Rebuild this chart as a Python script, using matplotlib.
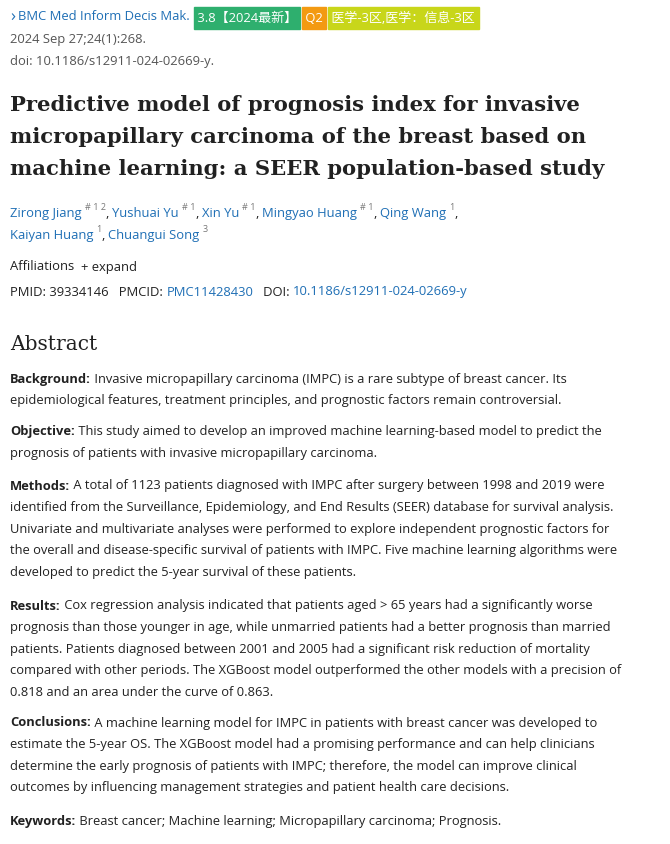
import matplotlib
matplotlib.use("Agg")
import matplotlib.pyplot as plt
from matplotlib.patches import Rectangle

W, H = 670, 844
fig = plt.figure(figsize=(6.7, 8.44), dpi=100)
fig.patch.set_facecolor("white")
r = fig.canvas.get_renderer()
BODY = ["Open Sans", "Noto Sans CJK SC", "DejaVu Sans"]
LINK = "#1f6fb5"
TXT = "#212121"
GRAY = "#555555"

def put(x, y, s, size=9.4, color=TXT, weight="normal", family=BODY):
    t = fig.text(x / W, 1 - y / H, s, fontsize=size, color=color, weight=weight,
                 family=family, va="center", ha="left")
    bb = t.get_window_extent(renderer=r)
    return x + bb.width

def runs(x, y, items, size=9.4):
    for it in items:
        s, kw = it if isinstance(it, tuple) else (it, {})
        x = put(x, y, s, size=size, **kw)
    return x

# header
x = put(10, 17, "›", size=12, color=LINK)
x = put(x + 3, 17, "BMC Med Inform Decis Mak.", color=LINK) + 4
badges = [("3.8【2024最新】", "#2eaf6e"), ("Q2", "#f39a12"), ("医学-3区,医学：信息-3区", "#c8d61a")]
for s, c in badges:
    t = fig.text(x / W, 1 - 18 / H, " " + s + " ", fontsize=9.4, color="white",
                 family=BODY, va="center", ha="left")
    bb = t.get_window_extent(renderer=r)
    fig.add_artist(Rectangle((x / W, 1 - 29 / H), bb.width / W, 22 / H,
                             transform=fig.transFigure, color=c, zorder=0))
    x += bb.width + 2
put(10, 40, "2024 Sep 27;24(1):268.", color=GRAY)
put(10, 61, "doi: 10.1186/s12911-024-02669-y.", color=GRAY)

title = ["Predictive model of prognosis index for invasive",
         "micropapillary carcinoma of the breast based on",
         "machine learning: a SEER population-based study"]
for i, s in enumerate(title):
    put(10, 105 + 32 * i, s, size=15.2, weight="bold", family=["DejaVu Serif"])

def author_line(y, items):
    x = 10
    for name, sups, comma in items:
        x = put(x, y, name, color=LINK)
        x = put(x + 3, y - 5, sups, size=6.5, color="#777777")
        if comma:
            x = put(x, y, ",", color=TXT) + 3
author_line(213, [("Zirong Jiang", "# 1 2", True), ("Yushuai Yu", "# 1", True), ("Xin Yu", "# 1", True),
                  ("Mingyao Huang", "# 1", True), ("Qing Wang", "1", True)])
author_line(235, [("Kaiyan Huang", "1", True), ("Chuangui Song", "3", False)])

runs(10, 267, ["Affiliations  ", "+ expand"])
runs(10, 292, ["PMID: 39334146   PMCID: ", ("PMC11428430", {"color": LINK}), "   DOI: ",
               ("10.1186/s12911-024-02669-y", {"color": LINK})])

put(10, 344, "Abstract", size=14.5, family=["DejaVu Serif"])

B = {"weight": "bold"}
paras = [
    (379, "Background:", ["Invasive micropapillary carcinoma (IMPC) is a rare subtype of breast cancer. Its",
                          "epidemiological features, treatment principles, and prognostic factors remain controversial."]),
    (432, "Objective:", ["This study aimed to develop an improved machine learning-based model to predict the",
                         "prognosis of patients with invasive micropapillary carcinoma."]),
    (486, "Methods:", ["A total of 1123 patients diagnosed with IMPC after surgery between 1998 and 2019 were",
                       "identified from the Surveillance, Epidemiology, and End Results (SEER) database for survival analysis.",
                       "Univariate and multivariate analyses were performed to explore independent prognostic factors for",
                       "the overall and disease-specific survival of patients with IMPC. Five machine learning algorithms were",
                       "developed to predict the 5-year survival of these patients."]),
    (606, "Results:", ["Cox regression analysis indicated that patients aged > 65 years had a significantly worse",
                       "prognosis than those younger in age, while unmarried patients had a better prognosis than married",
                       "patients. Patients diagnosed between 2001 and 2005 had a significant risk reduction of mortality",
                       "compared with other periods. The XGBoost model outperformed the other models with a precision of",
                       "0.818 and an area under the curve of 0.863."]),
    (723, "Conclusions:", ["A machine learning model for IMPC in patients with breast cancer was developed to",
                           "estimate the 5-year OS. The XGBoost model had a promising performance and can help clinicians",
                           "determine the early prognosis of patients with IMPC; therefore, the model can improve clinical",
                           "outcomes by influencing management strategies and patient health care decisions."]),
    (821, "Keywords:", ["Breast cancer; Machine learning; Micropapillary carcinoma; Prognosis."]),
]
for y0, lab, lines in paras:
    for i, s in enumerate(lines):
        y = y0 + 21.6 * i
        if i == 0:
            runs(10, y, [(lab, B), " " + s], size=9.3)
        else:
            put(10, y, s, size=9.3)

fig.savefig("out.png", dpi=100, facecolor="white")
